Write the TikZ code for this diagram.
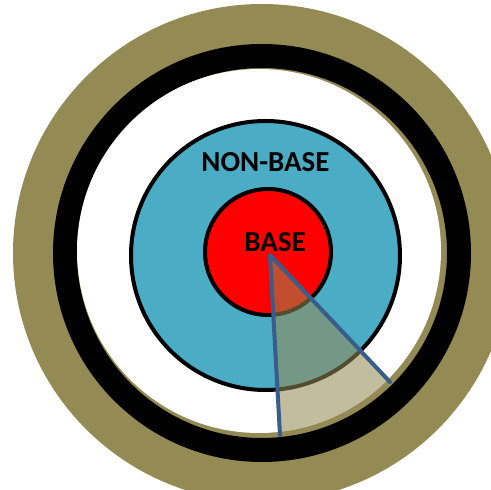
\documentclass[tikz,border=0pt]{standalone}
\usepackage{fontspec}
\setmainfont{Carlito}
\usetikzlibrary{calc}
\definecolor{ringolive}{HTML}{948A54}
\definecolor{nbblue}{HTML}{4BACC6}
\definecolor{linecol}{HTML}{385D8A}
\tikzset{
  lbl/.style={font=\bfseries\fontsize{29}{29}\selectfont, inner sep=0pt, text=black},
  ringline/.style={draw=black, line width=4pt},
  wedgeline/.style={draw=linecol, line width=4pt, line cap=round, line join=round}
}
\begin{document}
\begin{tikzpicture}[x=1pt,y=1pt]
\useasboundingbox (0,0) rectangle (491,490);
\clip (0,0) rectangle (491,490);
\fill[ringolive] (262,237) circle (249);
\fill[black,even odd rule] (262,237) circle (209) (262,237) circle (185);
\fill[white] (259,239) circle (182);
\draw[ringline, fill=nbblue] (265.5,234.5) circle (134.5);
\draw[ringline, fill=red] (268,238) circle (63);
\node[lbl] (nonbase) at (265.5,328) {NON-BASE};
\node[lbl] (base) at (275,248) {BASE};
\coordinate (apex) at (270,235);
\coordinate (lend) at (280,55);
\coordinate (rend) at (390,108);
\begin{scope}
  \clip (259,239) circle (182);
  \fill[ringolive, opacity=0.56] (apex) -- ($(apex)!1.5!(lend)$) -- ($(apex)!1.5!(rend)$) -- cycle;
\end{scope}
\draw[wedgeline] (lend) -- (apex) -- (rend);
\end{tikzpicture}
\end{document}
